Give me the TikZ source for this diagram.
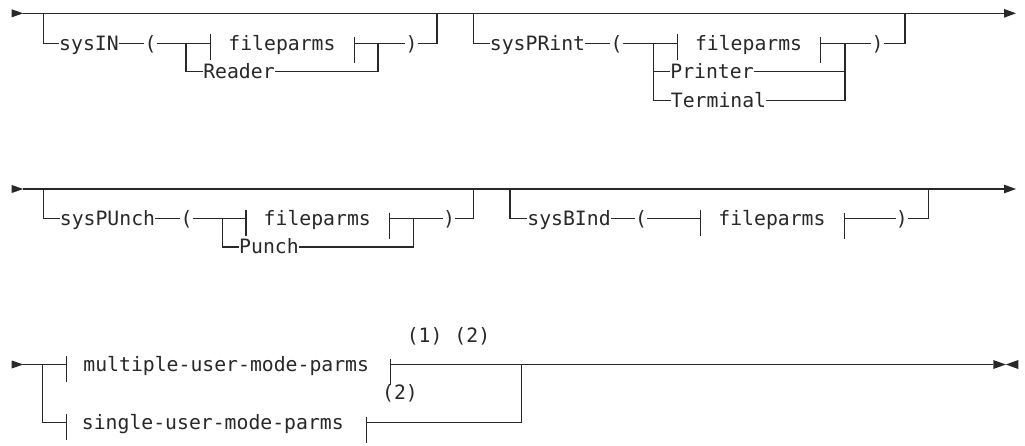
\documentclass[tikz,border=0pt]{standalone}
\usepackage{fontspec}
\setmonofont{DejaVu Sans Mono}
\usetikzlibrary{arrows.meta}
\definecolor{ink}{RGB}{40,40,40}
\newcommand\fragbars[1]{%
  \draw[rail] ([yshift=9pt]#1.west) -- ([yshift=-17pt]#1.west);
  \draw[rail] ([yshift=6pt]#1.east) -- ([yshift=-20pt]#1.east);}
\begin{document}
\begin{tikzpicture}[x=1pt,y=-1pt,
  rail/.style={draw=ink,line width=1.1pt},
  kw/.style={inner sep=0pt,text height=17pt,text depth=3.6pt,text=ink,
    font=\fontsize{19.77}{22}\ttfamily},
  frag/.style 2 args={kw,anchor=west,
    execute at begin node={\hspace*{#1}},execute at end node={\hspace*{#2}}},
  tip/.style={-{Triangle[length=12pt,width=8.5pt]}}]
\path[fill=white,use as bounding box] (0,0) rectangle (1025,445);

% ---------------- Row 1 ----------------
\coordinate (s1) at (23.3,13.3);
\coordinate (e1) at (1016,13.3);
\fill[ink] (11.7,9.3) -- (s1) -- (11.7,17.3) -- cycle;
\draw[rail,tip] (s1) -- (e1);

% sysIN group
\coordinate (aL) at (43.3,13.3);
\coordinate (aR) at (437,13.3);
\node[kw] (sysin) at (89,43.3) {sysIN};
\node[kw] (lpA) at (150.5,43.3) {(};
\coordinate (jA) at (186,43.3);
\node[frag={17.5pt}{18.5pt}] (fpA) at (210.7,43.3) {fileparms};
\coordinate (jA2) at (378,43.3);
\node[kw] (rpA) at (411.5,43.3) {)};
\node[kw] (reader) at (239,71.8) {Reader};
\draw[rail] (aL) |- (sysin);
\draw[rail] (sysin) -- (lpA);
\draw[rail] (lpA) -- (fpA);
\draw[rail] (jA) |- (reader);
\draw[rail] (fpA) -- (jA2);
\draw[rail] (reader) -| (jA2);
\draw[rail] (jA2) -- (rpA);
\draw[rail] (rpA) -| (aR);
\fragbars{fpA}

% sysPRint group
\coordinate (bL) at (473.3,13.3);
\coordinate (bR) at (905,13.3);
\node[kw] (sysprint) at (537.5,43.3) {sysPRint};
\node[kw] (lpB) at (616.5,43.3) {(};
\coordinate (jB) at (653.3,43.3);
\node[frag={17.5pt}{18.5pt}] (fpB) at (677.3,43.3) {fileparms};
\coordinate (jB2) at (845,43.3);
\node[kw] (rpB) at (877.5,43.3) {)};
\node[kw] (printer) at (712,71.8) {Printer};
\node[kw] (terminal) at (718.5,100.3) {Terminal};
\draw[rail] (bL) |- (sysprint);
\draw[rail] (sysprint) -- (lpB);
\draw[rail] (lpB) -- (fpB);
\draw[rail] (jB) |- (printer);
\draw[rail] (jB) |- (terminal);
\draw[rail] (fpB) -- (jB2);
\draw[rail] (printer) -| (jB2);
\draw[rail] (terminal) -| (jB2);
\draw[rail] (jB2) -- (rpB);
\draw[rail] (rpB) -| (bR);
\fragbars{fpB}

% ---------------- Row 2 ----------------
\coordinate (s2) at (23.3,189);
\coordinate (e2) at (1016,189);
\fill[ink] (11.7,185) -- (s2) -- (11.7,193) -- cycle;
\draw[rail,tip] (s2) -- (e2);

% sysPUnch group
\coordinate (cL) at (43.3,189);
\coordinate (cR) at (473.3,189);
\node[kw] (syspunch) at (107.5,218.5) {sysPUnch};
\node[kw] (lpC) at (186.5,218.5) {(};
\coordinate (jC) at (222.7,218.5);
\node[frag={17.5pt}{18.5pt}] (fpC) at (246,218.5) {fileparms};
\coordinate (jC2) at (413.3,218.5);
\node[kw] (rpC) at (449,218.5) {)};
\node[kw] (punch) at (269,247) {Punch};
\draw[rail] (cL) |- (syspunch);
\draw[rail] (syspunch) -- (lpC);
\draw[rail] (lpC) -- (fpC);
\draw[rail] (jC) |- (punch);
\draw[rail] (fpC) -- (jC2);
\draw[rail] (punch) -| (jC2);
\draw[rail] (jC2) -- (rpC);
\draw[rail] (rpC) -| (cR);
\fragbars{fpC}

% sysBInd group
\coordinate (dL) at (510,189);
\coordinate (dR) at (928.3,189);
\node[kw] (sysbind) at (569,218.5) {sysBInd};
\node[kw] (lpD) at (641,218.5) {(};
\node[frag={17.5pt}{18.5pt}] (fpD) at (700.7,218.5) {fileparms};
\node[kw] (rpD) at (901.7,218.5) {)};
\draw[rail] (dL) |- (sysbind);
\draw[rail] (sysbind) -- (lpD);
\draw[rail] (lpD) -- (fpD);
\draw[rail] (fpD) -- (rpD);
\draw[rail] (rpD) -| (dR);
\fragbars{fpD}

% ---------------- Row 3 ----------------
\coordinate (s3) at (23.3,364.5);
\coordinate (j3) at (42.7,364.5);
\coordinate (j3R) at (521.7,364.5);
\coordinate (e3) at (993.3,364.5);
\coordinate (m3) at (1005.8,364.5);
\fill[ink] (11.7,360.5) -- (s3) -- (11.7,368.5) -- cycle;
\node[frag={16.5pt}{21.5pt}] (multi) at (66.7,364.5) {multiple-user-mode-parms};
\node[frag={15pt}{22.5pt}] (single) at (66.7,422.5) {single-user-mode-parms};
\node[kw] (note12) at (448.5,336) {(1) (2)};
\node[kw] (note2) at (400,392.5) {(2)};
\draw[rail] (s3) -- (multi);
\draw[rail] (j3) |- (single);
\draw[rail] (multi) -- (j3R);
\draw[rail] (single) -| (j3R);
\draw[rail] (j3R) -- (e3);
\coordinate (t3a) at (527,364.5);
\coordinate (t3b) at (550,364.5);
\draw[ink,line width=1.7pt] (t3a) -- (t3b);
\fragbars{multi}
\fragbars{single}
\fill[ink] (e3) ++(0,-4.5) -- (m3) -- (993.3,369) -- cycle;
\fill[ink] (1018.3,360) -- (m3) -- (1018.3,369) -- cycle;
\end{tikzpicture}
\end{document}
